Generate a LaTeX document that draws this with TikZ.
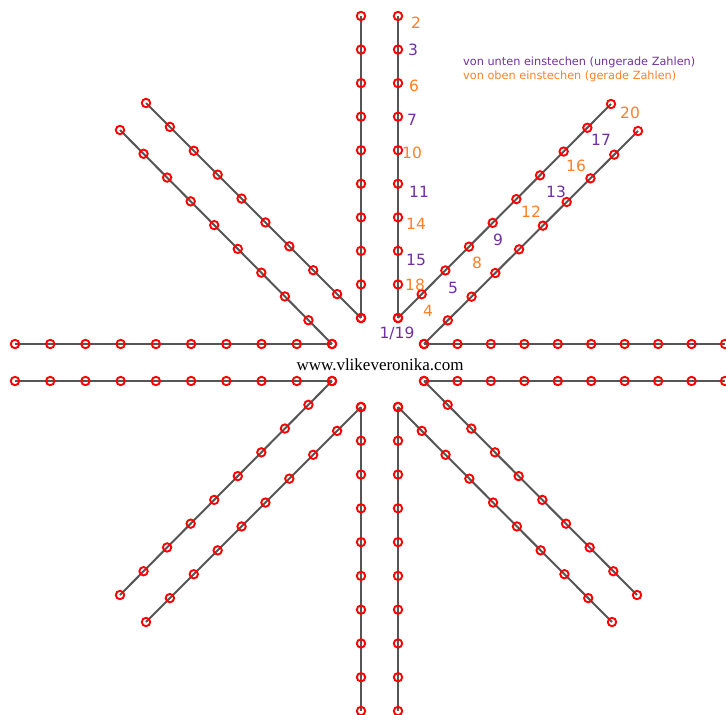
\documentclass[tikz,border=0pt]{standalone}
\usepackage{fontspec}
\setmainfont{DejaVu Sans}
\newfontfamily\wwwfont{Liberation Serif}
\usetikzlibrary{calc}
\definecolor{ungerade}{HTML}{7030A0}
\definecolor{gerade}{HTML}{FF7F27}
\definecolor{fadengrau}{HTML}{555555}

\begin{document}
\begin{tikzpicture}[x=1pt, y=-1pt,
        faden/.style={draw=fadengrau, line width=2pt},
        loch/.style={draw=red, line width=1.9pt},
        ungeradeNr/.style={text=ungerade, inner sep=0pt, font=\fontsize{15.5}{15.5}\selectfont},
        geradeNr/.style={text=gerade, inner sep=0pt, font=\fontsize{15.5}{15.5}\selectfont},
        legende/.style={anchor=west, inner sep=0pt, font=\fontsize{11.3}{11.3}\selectfont}]
                \useasboundingbox (0,0) rectangle (726,715);

                % Faeden: a = innen, b = aussen
                \coordinate(Nla)at(361,318); \coordinate(Nlb)at(361,16);
                \coordinate(Nra)at(398,318); \coordinate(Nrb)at(398,16);
                \coordinate(Sla)at(361,407); \coordinate(Slb)at(361,711);
                \coordinate(Sra)at(398,407); \coordinate(Srb)at(398,711);
                \coordinate(Woa)at(332,344); \coordinate(Wob)at(15,344);
                \coordinate(Wua)at(332,381); \coordinate(Wub)at(15,381);
                \coordinate(Ooa)at(424,344); \coordinate(Oob)at(725,344);
                \coordinate(Oua)at(424,381); \coordinate(Oub)at(725,381);
                \coordinate(NOib)at(611,104); \coordinate(NOab)at(638,131);
                \coordinate(NWib)at(146,103); \coordinate(NWab)at(120,130);
                \coordinate(SWib)at(120,595); \coordinate(SWab)at(146,622);
                \coordinate(SOib)at(637,595); \coordinate(SOab)at(612,622);

                \foreach \a/\b in {Nla/Nlb, Nra/Nrb, Sla/Slb, Sra/Srb, Woa/Wob, Wua/Wub, Ooa/Oob, Oua/Oub,
                        Nra/NOib, Ooa/NOab, Nla/NWib, Woa/NWab, Wua/SWib, Sla/SWab, Oua/SOib, Sra/SOab}{
                    \path[faden](\a)to(\b);
                    \foreach \i in {0,...,9}
                        \path[loch]($(\a)!\i/9!(\b)$) circle[radius=4.2pt];
                }

                % Stichnummern
                \node[ungeradeNr](n1)at(397,333){1/19};
                \node[geradeNr](n2)at(416,23){2};
                \node[ungeradeNr](n3)at(413,50){3};
                \node[geradeNr](n4)at(428,311){4};
                \node[ungeradeNr](n5)at(453,288){5};
                \node[geradeNr](n6)at(414,86){6};
                \node[ungeradeNr](n7)at(412,120){7};
                \node[geradeNr](n8)at(477,263){8};
                \node[ungeradeNr](n9)at(498,240){9};
                \node[geradeNr](n10)at(412,153){10};
                \node[ungeradeNr](n11)at(419,192){11};
                \node[geradeNr](n12)at(531,212){12};
                \node[ungeradeNr](n13)at(556,192){13};
                \node[geradeNr](n14)at(416,224){14};
                \node[ungeradeNr](n15)at(416,260){15};
                \node[geradeNr](n16)at(576,166){16};
                \node[ungeradeNr](n17)at(601,140){17};
                \node[geradeNr](n18)at(415,285){18};
                \node[geradeNr](n20)at(630,113){20};

                \node[legende, text=ungerade](leg1)at(463,62){von unten einstechen (ungerade Zahlen)};
                \node[legende, text=gerade](leg2)at(463,76){von oben einstechen (gerade Zahlen)};
                \node[font=\wwwfont\fontsize{17}{17}\selectfont](www)at(380,365){www.vlikeveronika.com};
            \end{tikzpicture}
\end{document}
